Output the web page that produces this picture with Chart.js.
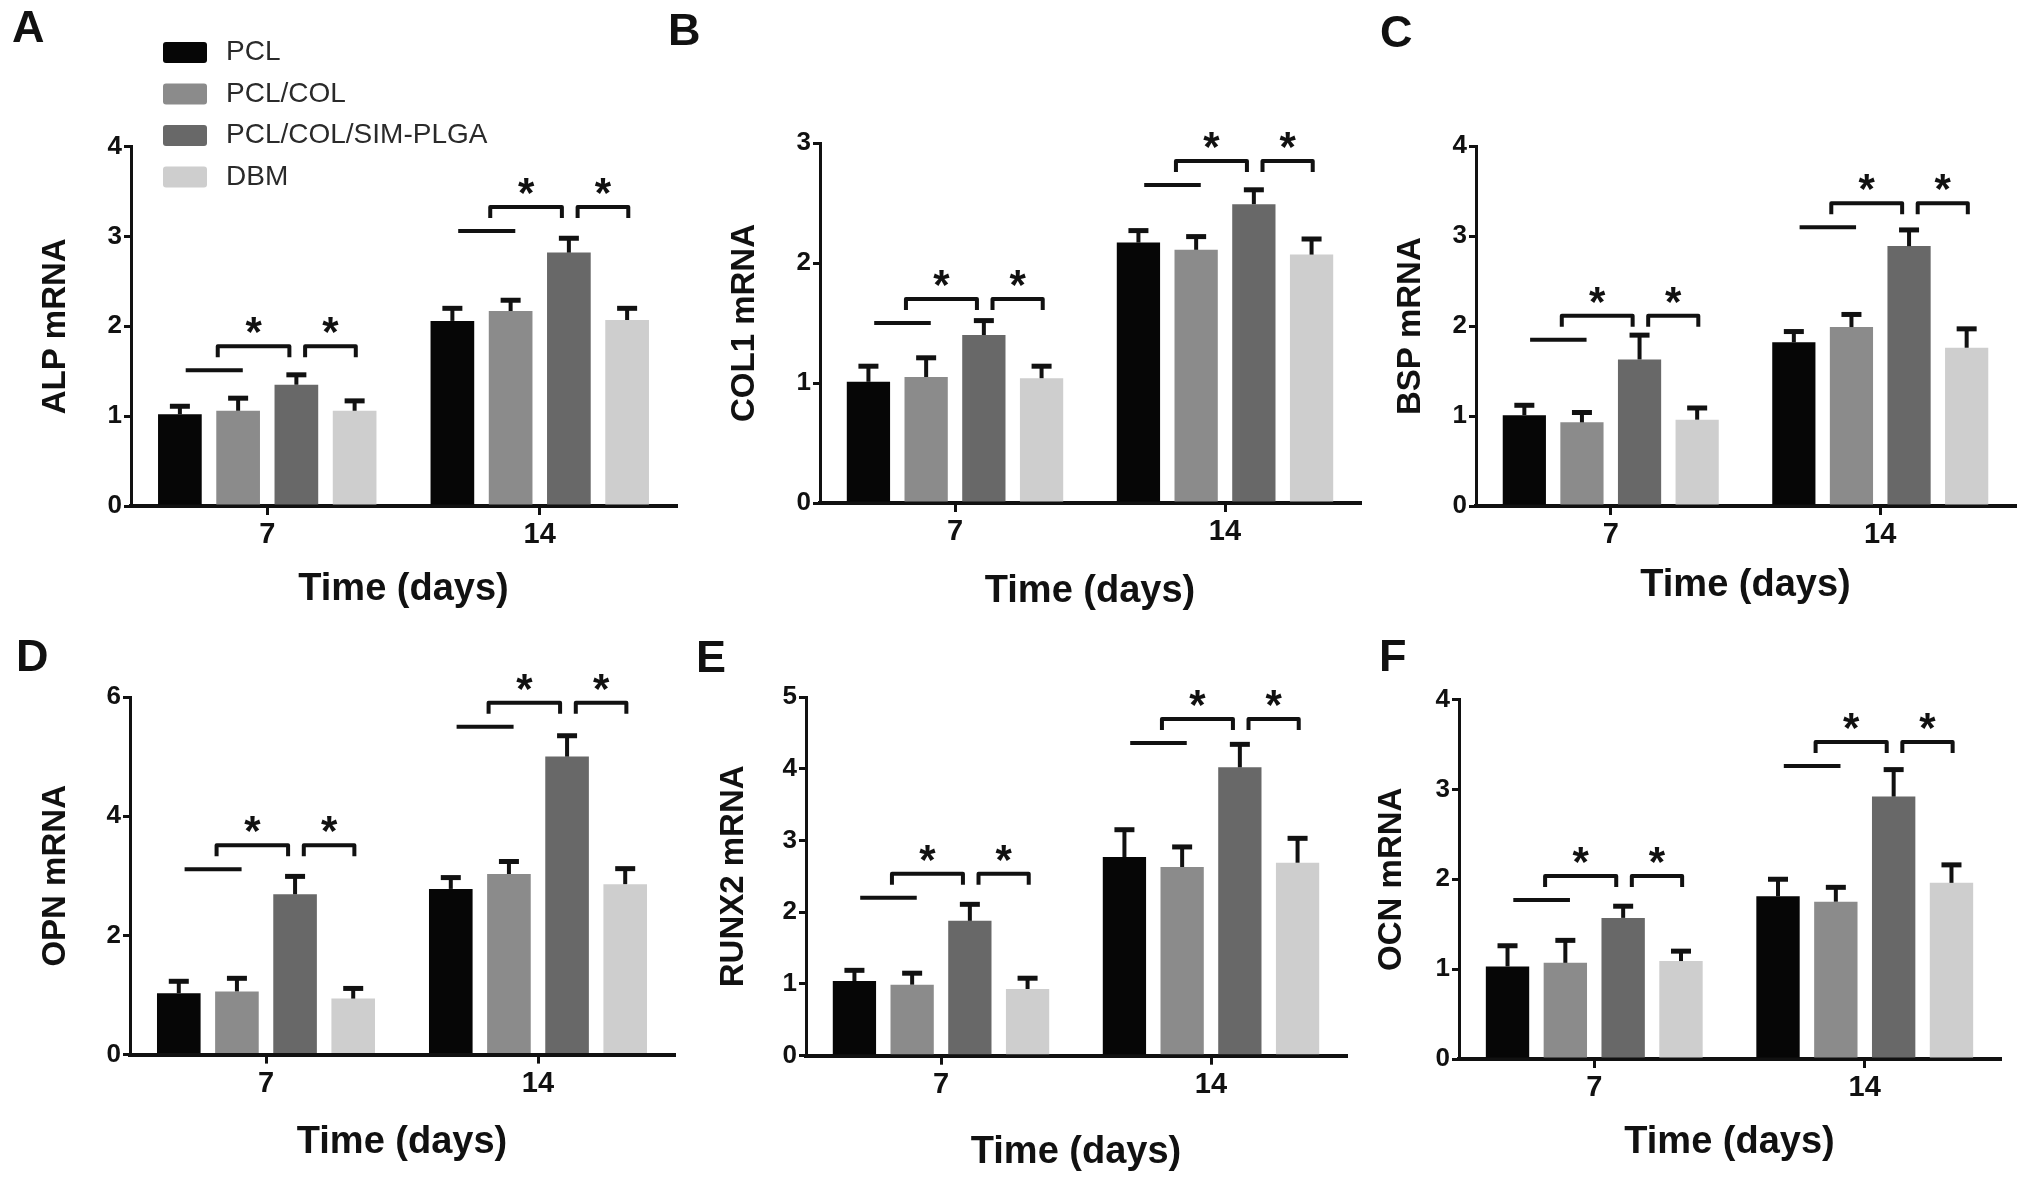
<!DOCTYPE html>
<html>
<head>
<meta charset="utf-8">
<title>mRNA expression</title>
<script src="https://cdn.jsdelivr.net/npm/chart.js@4.4.1/dist/chart.umd.min.js"></script>
<style>
  html, body { margin: 0; padding: 0; background: #fff; overflow: hidden; }
  body { width: 2031px; height: 1188px; position: relative; }
  canvas { position: absolute; }
</style>
</head>
<body>
<canvas id="pA"></canvas>
<canvas id="pB"></canvas>
<canvas id="pC"></canvas>
<canvas id="pD"></canvas>
<canvas id="pE"></canvas>
<canvas id="pF"></canvas>
<script>
const days = ['7', '14'];
const groups = ['PCL', 'PCL/COL', 'PCL/COL/SIM-PLGA', 'DBM'];

// one row per group, [day 7, day 14]; *Err is the upper SD bar
const alpMean = [[1.02, 2.06], [1.06, 2.17], [1.35, 2.82], [1.06, 2.07]];
const alpErr  = [[0.09, 0.14], [0.14, 0.12], [0.11, 0.16], [0.11, 0.13]];
const colMean = [[1.01, 2.17], [1.05, 2.11], [1.40, 2.49], [1.04, 2.07]];
const colErr  = [[0.13, 0.10], [0.16, 0.11], [0.12, 0.12], [0.10, 0.13]];
const bspMean = [[1.01, 1.82], [0.93, 1.99], [1.63, 2.89], [0.96, 1.76]];
const bspErr  = [[0.11, 0.12], [0.11, 0.14], [0.27, 0.18], [0.13, 0.21]];
const opnMean = [[1.03, 2.78], [1.06, 3.03], [2.69, 5.00], [0.94, 2.86]];
const opnErr  = [[0.20, 0.19], [0.22, 0.21], [0.30, 0.35], [0.17, 0.26]];
const runxMean = [[1.04, 2.77], [0.99, 2.63], [1.88, 4.02], [0.93, 2.69]];
const runxErr  = [[0.15, 0.38], [0.16, 0.28], [0.23, 0.32], [0.15, 0.34]];
const ocnMean = [[1.03, 1.81], [1.07, 1.75], [1.57, 2.92], [1.09, 1.96]];
const ocnErr  = [[0.23, 0.19], [0.25, 0.16], [0.13, 0.30], [0.11, 0.20]];

// level of the PCL / PCL-COL line per day, brackets and * sit above it
const alpSig = [1.51, 3.06];
const colSig = [1.50, 2.65];
const bspSig = [1.85, 3.10];
const opnSig = [3.11, 5.50];
const runxSig = [2.20, 4.36];
const ocnSig = [1.77, 3.26];

const yMax = [4, 3, 4, 6, 5, 4];
const yStep = [1, 1, 1, 2, 1, 1];

const FONT = "'Liberation Sans', Arial, Helvetica, sans-serif";
const INK = '#111';
const groupColors = ['#060606', '#8b8b8b', '#686868', '#cecece'];

Chart.defaults.font.family = FONT;
Chart.defaults.color = INK;

const panels = [
  { id: 'pA', letter: 'A', title: 'ALP mRNA',   mean: alpMean,  err: alpErr,  sig: alpSig,  legend: true },
  { id: 'pB', letter: 'B', title: 'COL1 mRNA',  mean: colMean,  err: colErr,  sig: colSig },
  { id: 'pC', letter: 'C', title: 'BSP mRNA',   mean: bspMean,  err: bspErr,  sig: bspSig },
  { id: 'pD', letter: 'D', title: 'OPN mRNA',   mean: opnMean,  err: opnErr,  sig: opnSig },
  { id: 'pE', letter: 'E', title: 'RUNX2 mRNA', mean: runxMean, err: runxErr, sig: runxSig },
  { id: 'pF', letter: 'F', title: 'OCN mRNA',   mean: ocnMean,  err: ocnErr,  sig: ocnSig }
];

// page geometry: canvas box [x,y,w,h], plot area [l,t,r,b], letter [x, centre y]
const layout = {
  pA: { box: [0, 0, 700, 640],       area: [131, 146.6, 676, 506],    letter: [12, 30],     yTitleX: 56,   xTitleY: 590 },
  pB: { box: [660, 0, 720, 640],     area: [820, 143, 1360, 503],     letter: [668, 33],    yTitleX: 745,  xTitleY: 592 },
  pC: { box: [1370, 0, 661, 640],    area: [1476, 146.3, 2015, 506],  letter: [1380, 35],   yTitleX: 1411, xTitleY: 586 },
  pD: { box: [0, 600, 700, 588],     area: [130, 697, 674, 1054.6],   letter: [16, 659],    yTitleX: 56,   xTitleY: 1143 },
  pE: { box: [680, 600, 700, 588],   area: [806, 697, 1346, 1055.7],  letter: [696, 660],   yTitleX: 734,  xTitleY: 1153 },
  pF: { box: [1370, 600, 661, 588],  area: [1459, 699.5, 2000, 1059], letter: [1379, 659],  yTitleX: 1392, xTitleY: 1143 }
};

const LETTER_SIZE = 45, YTITLE_SIZE = 33, XTITLE_SIZE = 38, STAR_SIZE = 42;

const errorBars = {
  id: 'errorBars',
  afterDatasetsDraw(chart) {
    const { ctx, scales: { y } } = chart;
    ctx.save();
    ctx.strokeStyle = INK;
    chart.data.datasets.forEach((ds, i) => {
      chart.getDatasetMeta(i).data.forEach((bar, j) => {
        const top = y.getPixelForValue(ds.data[j] + ds.err[j]);
        ctx.lineWidth = 4;
        ctx.beginPath();
        ctx.moveTo(bar.x, bar.y);
        ctx.lineTo(bar.x, top);
        ctx.stroke();
        ctx.lineWidth = 5;
        ctx.beginPath();
        ctx.moveTo(bar.x - 10, top);
        ctx.lineTo(bar.x + 10, top);
        ctx.stroke();
      });
    });
    ctx.restore();
  }
};

const sigMarks = {
  id: 'sig',
  afterDatasetsDraw(chart, args, opts) {
    const { ctx, scales: { y } } = chart;
    const metas = chart.data.datasets.map((ds, i) => chart.getDatasetMeta(i).data);
    ctx.save();
    ctx.strokeStyle = INK;
    ctx.fillStyle = INK;
    ctx.lineWidth = 4;
    ctx.lineJoin = 'round';
    ctx.font = 'bold ' + STAR_SIZE + 'px ' + FONT;
    ctx.textAlign = 'center';
    ctx.textBaseline = 'alphabetic';
    opts.levels.forEach((lvl, j) => {
      const [pcl, col, sim, dbm] = metas.map(d => d[j].x);
      const slot = col - pcl;
      const yl = y.getPixelForValue(lvl);
      const yb = yl - 24;
      ctx.beginPath();
      ctx.moveTo(pcl + 0.1 * slot, yl);
      ctx.lineTo(col + 0.08 * slot, yl);
      ctx.stroke();
      [[col - 0.35 * slot, sim - 0.12 * slot], [sim + 0.15 * slot, dbm + 0.02 * slot]].forEach(([a, b]) => {
        ctx.beginPath();
        ctx.moveTo(a, yb + 11);
        ctx.lineTo(a, yb);
        ctx.lineTo(b, yb);
        ctx.lineTo(b, yb + 11);
        ctx.stroke();
        ctx.fillText('*', (a + b) / 2, yb - 24 + 0.57 * STAR_SIZE);
      });
    });
    ctx.restore();
  }
};

// legend drawn as a column above panel A's plot
const groupKey = {
  id: 'groupKey',
  afterDraw(chart, args, opts) {
    if (!opts.show) return;
    const { ctx, chartArea: a } = chart;
    ctx.save();
    ctx.font = '28px ' + FONT;
    ctx.textBaseline = 'middle';
    chart.data.datasets.forEach((ds, i) => {
      const cy = a.top - 94 + i * 41.5;
      ctx.fillStyle = ds.backgroundColor;
      ctx.beginPath();
      ctx.roundRect(a.left + 32, cy - 10.5, 44, 21, 3);
      ctx.fill();
      ctx.fillStyle = '#2a2a2a';
      ctx.fillText(ds.label, a.left + 95, cy);
    });
    ctx.restore();
  }
};

function build(p, k) {
  const g = layout[p.id];
  const [bx, by, bw, bh] = g.box;
  const [al, at, ar, ab] = g.area;
  const cv = document.getElementById(p.id);
  cv.width = bw;
  cv.height = bh;
  Object.assign(cv.style, { left: bx + 'px', top: by + 'px', width: bw + 'px', height: bh + 'px' });

  const padL = g.letter[0] - bx;
  const padR = bx + bw - ar;
  const yWidth = al - bx - padL;
  const xHeight = by + bh - ab;
  const letterLH = LETTER_SIZE * 1.2;
  const tTop = g.letter[1] - by - letterLH / 2;
  const tBot = at - by - tTop - letterLH;
  const yPad = g.yTitleX - g.letter[0] - YTITLE_SIZE * 1.2 / 2;
  const xPad = by + bh - g.xTitleY - XTITLE_SIZE * 1.2 / 2;

  return new Chart(cv, {
    type: 'bar',
    data: {
      labels: days,
      datasets: groups.map((name, i) => ({
        label: name,
        data: p.mean[i],
        err: p.err[i],
        backgroundColor: groupColors[i],
        borderWidth: 0,
        barPercentage: 0.75,
        categoryPercentage: 0.855
      }))
    },
    options: {
      responsive: false,
      animation: false,
      layout: { padding: { left: padL, right: padR, top: 0, bottom: 0 } },
      plugins: {
        legend: { display: false },
        tooltip: { enabled: false },
        title: {
          display: true, text: p.letter, align: 'start', color: INK,
          font: { size: LETTER_SIZE, weight: 'bold', lineHeight: 1.2 },
          padding: { top: tTop, bottom: tBot }
        },
        sig: { levels: p.sig },
        groupKey: { show: !!p.legend }
      },
      scales: {
        x: {
          offset: true,
          grid: { display: true, offset: false, drawOnChartArea: false, drawTicks: true, tickLength: 9, color: INK, lineWidth: 3 },
          border: { display: true, color: INK, width: 4 },
          ticks: { color: INK, padding: 3, font: { size: 29, weight: 'bold' } },
          title: {
            display: true, text: 'Time (days)', color: INK,
            font: { size: XTITLE_SIZE, weight: 'bold', lineHeight: 1.2 },
            padding: { top: 0, bottom: xPad }
          },
          afterFit(s) { s.height = xHeight; }
        },
        y: {
          min: 0,
          max: yMax[k],
          ticks: { stepSize: yStep[k], color: INK, padding: 2, font: { size: 26, weight: 'bold' } },
          grid: { drawOnChartArea: false, tickLength: 7, color: INK, lineWidth: 3 },
          border: { display: true, color: INK, width: 3 },
          title: {
            display: true, text: p.title, color: INK,
            font: { size: YTITLE_SIZE, weight: 'bold', lineHeight: 1.2 },
            padding: { top: yPad, bottom: 0 }
          },
          afterFit(s) { s.width = yWidth; }
        }
      }
    },
    plugins: [errorBars, sigMarks, groupKey]
  });
}

panels.forEach(build);
</script>
</body>
</html>
